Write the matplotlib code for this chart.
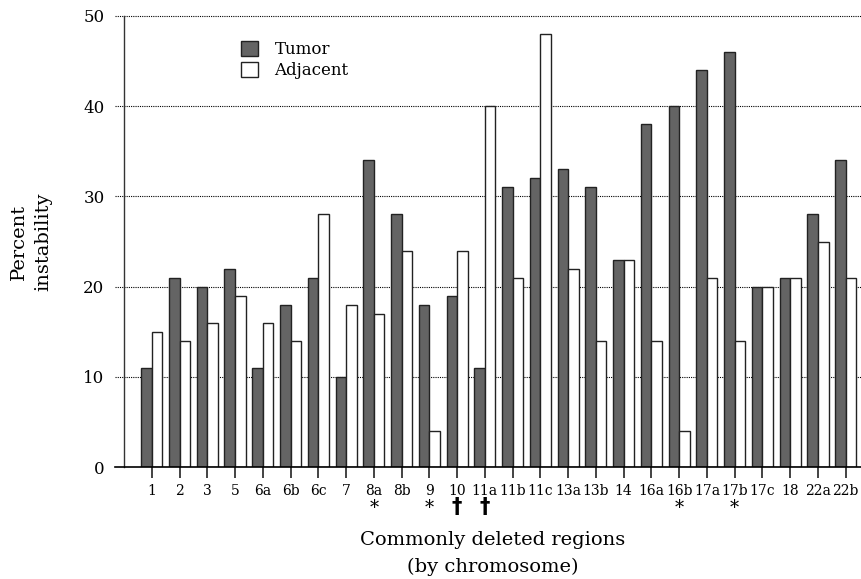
import matplotlib
matplotlib.use("Agg")
import matplotlib.pyplot as plt
import numpy as np

regions = ["1", "2", "3", "5", "6a", "6b", "6c", "7", "8a", "8b", "9", "10", "11a",
           "11b", "11c", "13a", "13b", "14", "16a", "16b", "17a", "17b", "17c", "18",
           "22a", "22b"]
tumor = [11, 21, 20, 22, 11, 18, 21, 10, 34, 28, 18, 19, 11,
         31, 32, 33, 31, 23, 38, 40, 44, 46, 20, 21, 28, 34]
adjacent = [15, 14, 16, 19, 16, 14, 28, 18, 17, 24, 4, 24, 40,
            21, 48, 22, 14, 23, 14, 4, 21, 14, 20, 21, 25, 21]
# significance marks under the tick labels
marks = {"8a": "*", "9": "*", "16b": "*", "17b": "*", "10": "\u2020", "11a": "\u2020"}

plt.rcParams["font.family"] = ["DejaVu Serif"]

fig = plt.figure(figsize=(8.61, 5.79), dpi=100)
ax = fig.add_axes([124 / 861, 1 - 467 / 579, 737 / 861, 451 / 579])

x = np.arange(len(regions))
w = 0.38
ax.bar(x - w / 2, tumor, w, color="#646464", edgecolor="#222222", lw=1.0, label="Tumor", zorder=3)
ax.bar(x + w / 2, adjacent, w, color="white", edgecolor="#222222", lw=1.0, label="Adjacent", zorder=3)

ax.set_xlim(-1.0, 25.55)
ax.set_ylim(0, 50)

ext = -9 / 737
for v in [10, 20, 30, 40, 50]:
    ax.axhline(v, xmin=ext, xmax=1, color="black", ls=(0, (1, 1)), lw=0.8, clip_on=False, zorder=1)
ax.axhline(0, xmin=ext, xmax=1, color="black", lw=1.2, clip_on=False, zorder=4)

for s in ["top", "right", "bottom"]:
    ax.spines[s].set_visible(False)
ax.spines["left"].set_color("#333333")
ax.spines["left"].set_linewidth(1.0)

ax.set_yticks([0, 10, 20, 30, 40, 50])
ax.set_yticklabels(["0", "10", "20", "30", "40", "50"], fontsize=12)
ax.tick_params(axis="y", length=0, pad=14)
ax.set_xticks(x)
ax.set_xticklabels(regions, fontsize=10)
ax.tick_params(axis="x", length=8, width=1.2, pad=4, color="#222222")

for i, r in enumerate(regions):
    if r in marks:
        m = marks[r]
        if m == "*":
            ax.text(i, -0.09, m, transform=ax.get_xaxis_transform(), ha="center", va="center",
                    fontsize=13)
        else:
            ax.text(i, -0.088, m, transform=ax.get_xaxis_transform(), ha="center", va="center",
                    fontsize=15, fontweight="bold", family="DejaVu Sans")

ax.yaxis.set_label_coords(-0.097, 0.5)
ax.set_ylabel("Percent\ninstability", fontsize=14, linespacing=1.45)
ax.set_xlabel("Commonly deleted regions\n(by chromosome)", fontsize=14, labelpad=24, linespacing=1.6)

ax.legend(loc="upper left", bbox_to_anchor=(0.159, 0.945), frameon=False, fontsize=12,
          handlelength=1.0, handleheight=1.0, handletextpad=1.0, labelspacing=0.25,
          borderpad=0, borderaxespad=0)

fig.savefig("out.png", dpi=100)
